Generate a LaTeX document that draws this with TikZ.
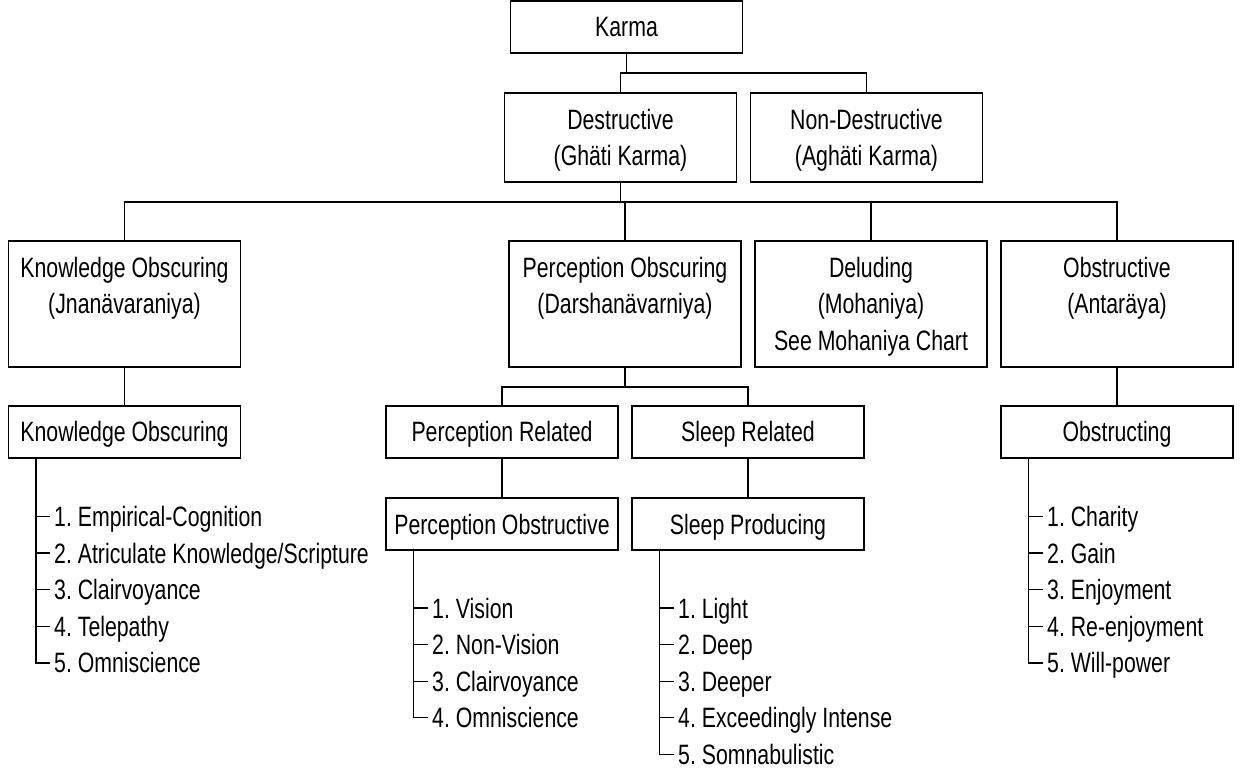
\documentclass[tikz,border=0pt]{standalone}
\usepackage{fontspec}
\setmainfont{Liberation Sans}[FakeStretch=0.76]
\frenchspacing
\newcommand{\boxlines}[1]{\parbox[t]{232pt}{\centering #1}}
\begin{document}
\begin{tikzpicture}[x=1pt,y=-1pt,
  boxbase/.style={draw, line width=1.3pt, minimum width=232pt, inner sep=0pt,
    font=\fontsize{28pt}{36.5pt}\selectfont\frenchspacing, text height=20pt, text depth=0pt},
  boxS/.style={boxbase, minimum height=52pt},
  boxM/.style={boxbase, minimum height=89pt, text depth=36.5pt},
  boxT/.style={boxbase, minimum height=126pt, text depth=73pt},
  listitem/.style={anchor=west, inner xsep=4pt, inner ysep=0pt,
    font=\fontsize{28pt}{36.5pt}\selectfont\frenchspacing, text height=20pt, text depth=0pt},
  conn/.style={line width=1.3pt}
]
\useasboundingbox[fill=white] (0,0) rectangle (1245,775);

% boxes
\node[boxS] (karma) at (626.5,27) {Karma};
\node[boxM] (dest) at (620.5,137.5) {\boxlines{Destructive\\(Ghäti Karma)}};
\node[boxM] (nondest) at (866.5,137.5) {\boxlines{Non-Destructive\\(Aghäti Karma)}};
\node[boxT] (know) at (124.5,304) {\boxlines{Knowledge Obscuring\\(Jnanävaraniya)}};
\node[boxT] (perc) at (625,304) {\boxlines{Perception Obscuring\\(Darshanävarniya)}};
\node[boxT] (delu) at (871,304) {\boxlines{Deluding\\(Mohaniya)\\See Mohaniya Chart}};
\node[boxT] (obst) at (1117,304) {\boxlines{Obstructive\\(Antaräya)}};
\node[boxS] (know2) at (124.5,432) {Knowledge Obscuring};
\node[boxS] (percrel) at (502,432) {Perception Related};
\node[boxS] (sleeprel) at (748,432) {Sleep Related};
\node[boxS] (obstg) at (1117,432) {Obstructing};
\node[boxS] (percobs) at (502,524) {Perception Obstructive};
\node[boxS] (sleepprod) at (748,524) {Sleep Producing};

% tree connectors
\coordinate (b1) at (0,73);
\coordinate (b2) at (0,202);
\coordinate (b3) at (0,387);
\draw[conn] (karma.south) -- (karma.south |- b1) -| (dest.north);
\draw[conn] (dest.north |- b1) -| (nondest.north);
\draw[conn] (dest.south) -- (dest.south |- b2);
\draw[conn] (know.north) |- (obst.north |- b2) -- (obst.north);
\draw[conn] (perc.north) -- (perc.north |- b2);
\draw[conn] (delu.north) -- (delu.north |- b2);
\draw[conn] (know.south) -- (know2.north);
\draw[conn] (obst.south) -- (obstg.north);
\draw[conn] (perc.south) -- (perc.south |- b3);
\draw[conn] (percrel.north) |- (sleeprel.north |- b3) -- (sleeprel.north);
\draw[conn] (percrel.south) -- (percobs.north);
\draw[conn] (sleeprel.south) -- (sleepprod.north);

% knowledge list
\coordinate (kv) at ([xshift=28pt]know2.south west);
\node[listitem] (k1) at (50,516.5) {1. Empirical-Cognition};
\node[listitem] (k2) at (50,553.1) {2. Atriculate Knowledge/Scripture};
\node[listitem] (k3) at (50,589.7) {3. Clairvoyance};
\node[listitem] (k4) at (50,626.3) {4. Telepathy};
\node[listitem] (k5) at (50,662.9) {5. Omniscience};
\foreach \i in {1,...,4} \draw[conn] (kv |- k\i.west) -- (k\i.west);
\draw[conn] (kv) |- (k5.west);

% perception list
\coordinate (pv) at ([xshift=28pt]percobs.south west);
\node[listitem] (p1) at (428,608) {1. Vision};
\node[listitem] (p2) at (428,644.6) {2. Non-Vision};
\node[listitem] (p3) at (428,681.2) {3. Clairvoyance};
\node[listitem] (p4) at (428,717.8) {4. Omniscience};
\foreach \i in {1,...,3} \draw[conn] (pv |- p\i.west) -- (p\i.west);
\draw[conn] (pv) |- (p4.west);

% sleep list
\coordinate (sv) at ([xshift=28pt]sleepprod.south west);
\node[listitem] (s1) at (674,608) {1. Light};
\node[listitem] (s2) at (674,644.6) {2. Deep};
\node[listitem] (s3) at (674,681.2) {3. Deeper};
\node[listitem] (s4) at (674,717.8) {4. Exceedingly Intense};
\node[listitem] (s5) at (674,754.4) {5. Somnabulistic};
\foreach \i in {1,...,4} \draw[conn] (sv |- s\i.west) -- (s\i.west);
\draw[conn] (sv) |- (s5.west);

% obstructing list
\coordinate (ov) at ([xshift=28pt]obstg.south west);
\node[listitem] (o1) at (1043,516.5) {1. Charity};
\node[listitem] (o2) at (1043,553.1) {2. Gain};
\node[listitem] (o3) at (1043,589.7) {3. Enjoyment};
\node[listitem] (o4) at (1043,626.3) {4. Re-enjoyment};
\node[listitem] (o5) at (1043,662.9) {5. Will-power};
\foreach \i in {1,...,4} \draw[conn] (ov |- o\i.west) -- (o\i.west);
\draw[conn] (ov) |- (o5.west);
\end{tikzpicture}
\end{document}
